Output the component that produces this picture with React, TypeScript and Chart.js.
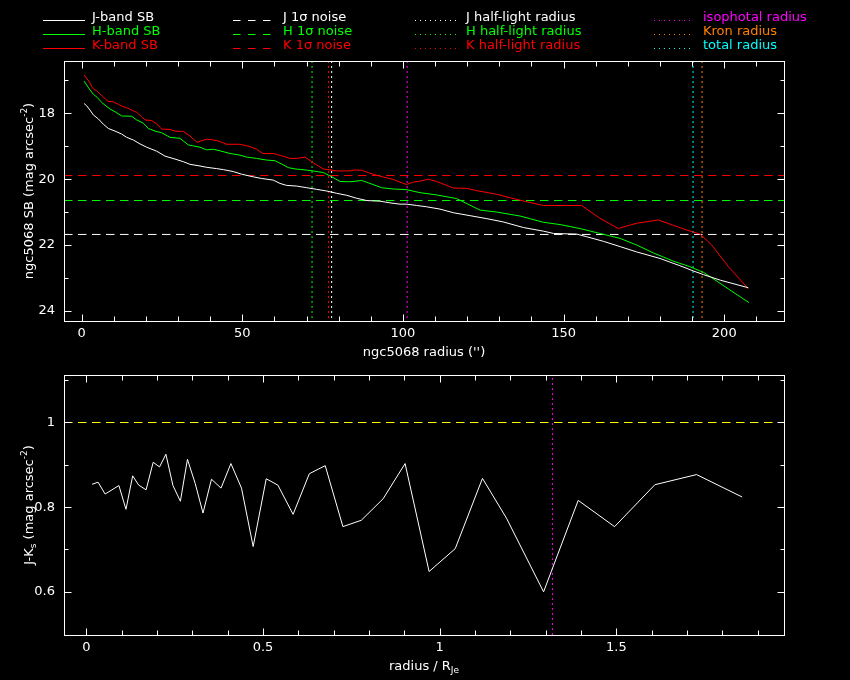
import React, { useEffect, useRef } from "react";
import { Chart, registerables } from "chart.js";

Chart.register(...registerables);

// ---------------- data ----------------
const RADIUS_J = [0.73, 1.56, 2.59, 3.63, 5.19, 6.74, 8.3, 10.37, 12.45, 14.01, 16.08, 18.16, 20.23, 23.34, 25.94, 29.05, 31.64, 33.72, 36.83, 38.9, 42.02, 44.09, 47.2, 49.8, 53.43, 56.02, 59.65, 61.73, 63.8, 66.91, 70.03, 73.14, 76.25, 79.36, 82.48, 85.59, 88.7, 92.85, 95.96, 99.08, 101.15, 104.26, 107.38, 111.53, 115.7, 120.9, 126.1, 131.2, 137.5, 143.7, 146.9, 154.1, 157.2, 162.4, 167.6, 172.7, 180.0, 186.2, 190.4, 193.5, 198.8, 207.5];
const SB_J = [17.7, 17.77, 17.9, 18.05, 18.17, 18.33, 18.46, 18.54, 18.63, 18.73, 18.81, 18.93, 19.03, 19.15, 19.3, 19.39, 19.47, 19.55, 19.6, 19.64, 19.68, 19.71, 19.77, 19.85, 19.93, 19.98, 20.03, 20.13, 20.19, 20.21, 20.26, 20.31, 20.36, 20.43, 20.49, 20.58, 20.65, 20.67, 20.72, 20.76, 20.76, 20.8, 20.84, 20.91, 21.02, 21.11, 21.2, 21.3, 21.47, 21.58, 21.65, 21.67, 21.75, 21.89, 22.05, 22.21, 22.41, 22.63, 22.79, 22.9, 23.07, 23.3];

const RADIUS_H = [0.73, 1.56, 2.59, 3.63, 4.88, 6.22, 8.82, 10.37, 12.45, 15.56, 17.12, 19.19, 20.75, 22.82, 24.9, 27.49, 30.6, 33.2, 34.75, 36.83, 38.9, 40.98, 43.05, 46.17, 49.28, 51.35, 54.47, 57.58, 60.17, 62.25, 64.32, 66.4, 69.51, 72.1, 75.21, 77.29, 80.4, 83.51, 87.15, 89.74, 93.37, 97.0, 101.15, 105.3, 110.5, 116.7, 124.0, 129.2, 136.4, 143.7, 148.9, 155.1, 161.3, 167.6, 172.7, 177.9, 184.1, 189.3, 193.5, 196.5, 201.8, 207.7];
const SB_H = [17.02, 17.14, 17.29, 17.42, 17.52, 17.67, 17.87, 17.95, 18.08, 18.09, 18.2, 18.3, 18.46, 18.54, 18.59, 18.73, 18.76, 18.96, 18.99, 19.03, 19.11, 19.09, 19.14, 19.22, 19.27, 19.33, 19.37, 19.42, 19.44, 19.54, 19.65, 19.69, 19.72, 19.75, 19.8, 19.9, 20.07, 20.08, 20.04, 20.13, 20.26, 20.3, 20.32, 20.41, 20.48, 20.59, 20.94, 21.0, 21.12, 21.31, 21.38, 21.5, 21.65, 21.8, 22.0, 22.24, 22.49, 22.66, 22.83, 23.02, 23.37, 23.75];

const RADIUS_K = [0.73, 1.56, 2.39, 3.22, 3.84, 4.67, 5.5, 6.54, 8.3, 9.86, 11.41, 12.45, 14.01, 15.56, 17.12, 18.67, 19.71, 21.79, 23.34, 24.9, 27.49, 29.05, 31.64, 33.72, 34.75, 36.0, 37.35, 38.9, 40.46, 42.54, 45.13, 49.28, 52.39, 54.47, 56.33, 59.65, 62.25, 64.84, 66.91, 69.51, 71.58, 73.14, 75.21, 77.29, 79.36, 83.51, 85.07, 87.15, 89.74, 92.85, 97.0, 100.11, 101.15, 103.22, 105.3, 107.9, 110.5, 115.7, 119.8, 123.0, 129.2, 136.4, 143.7, 155.6, 161.3, 167.0, 172.7, 179.5, 184.1, 188.4, 192.5, 196.1, 201.3, 207.5];
const SB_K = [16.83, 16.94, 17.04, 17.21, 17.27, 17.31, 17.39, 17.49, 17.64, 17.65, 17.73, 17.78, 17.83, 17.9, 17.97, 18.1, 18.2, 18.22, 18.32, 18.48, 18.49, 18.54, 18.55, 18.69, 18.78, 18.88, 18.83, 18.79, 18.8, 18.84, 18.94, 18.94, 19.01, 19.09, 19.22, 19.22, 19.29, 19.37, 19.37, 19.33, 19.47, 19.57, 19.69, 19.72, 19.75, 19.75, 19.72, 19.73, 19.82, 19.91, 20.01, 20.13, 20.16, 20.09, 20.06, 20.0, 20.07, 20.27, 20.28, 20.35, 20.46, 20.64, 20.8, 20.8, 21.19, 21.5, 21.34, 21.24, 21.4, 21.55, 21.67, 22.0, 22.66, 23.33];

const NOISE_J = 21.68;
const NOISE_H = 20.65;
const NOISE_K = 19.89;

const HALF_LIGHT_J = 77.8;
const HALF_LIGHT_H = 71.7;
const HALF_LIGHT_K = 76.8;
const ISOPHOTAL_RADIUS = 101.3;
const KRON_RADIUS = 193.1;
const TOTAL_RADIUS = 190.3;

const RADIUS_OVER_RJE = [0.016, 0.033, 0.053, 0.092, 0.112, 0.131, 0.148, 0.169, 0.189, 0.207, 0.225, 0.245, 0.266, 0.286, 0.308, 0.33, 0.354, 0.381, 0.409, 0.439, 0.472, 0.509, 0.542, 0.585, 0.631, 0.676, 0.726, 0.778, 0.84, 0.902, 0.97, 1.044, 1.121, 1.189, 1.294, 1.392, 1.495, 1.609, 1.727, 1.856];
const J_MINUS_K = [0.854, 0.859, 0.831, 0.851, 0.795, 0.874, 0.852, 0.841, 0.906, 0.895, 0.925, 0.851, 0.814, 0.913, 0.856, 0.786, 0.866, 0.845, 0.903, 0.845, 0.707, 0.867, 0.852, 0.783, 0.879, 0.898, 0.754, 0.769, 0.82, 0.903, 0.648, 0.702, 0.868, 0.774, 0.6, 0.816, 0.754, 0.853, 0.877, 0.824];
const JK_REFERENCE = 1;
const ISOPHOTAL_RJE = 1.319;

// axis ranges and ticks
const TOP_X_MIN = -5.5;
const TOP_X_MAX = 218.6;
const TOP_Y_MIN = 16.41;
const TOP_Y_MAX = 24.31;
const TOP_X_TICKS = [0, 10, 20, 30, 40, 50, 60, 70, 80, 90, 100, 110, 120, 130, 140, 150, 160, 170, 180, 190, 200, 210];
const TOP_X_LABELS = [0, 50, 100, 150, 200];
const TOP_Y_TICKS = [17, 18, 19, 20, 21, 22, 23, 24];
const TOP_Y_LABELS = [18, 20, 22, 24];

const BOT_X_MIN = -0.0634;
const BOT_X_MAX = 1.9745;
const BOT_Y_MIN = 0.498;
const BOT_Y_MAX = 1.1122;
const BOT_X_TICKS = [0, 0.1, 0.2, 0.3, 0.4, 0.5, 0.6, 0.7, 0.8, 0.9, 1, 1.1, 1.2, 1.3, 1.4, 1.5, 1.6, 1.7, 1.8, 1.9];
const BOT_X_LABELS = [0, 0.5, 1, 1.5];
const BOT_Y_TICKS = [0.6, 0.7, 0.8, 0.9, 1, 1.1];
const BOT_Y_LABELS = [0.6, 0.8, 1];

// ---------------- styling ----------------
const FONT = '"DejaVu Sans"';
const WHITE = "#ffffff";
const GREEN = "#00ff00";
const RED = "#ff0000";
const MAGENTA = "#ff00ff";
const ORANGE = "#ff8000";
const CYAN = "#00ffff";
const YELLOW = "#ffff00";
const DASH = [8.5, 5.5];
const DOT = [2, 3];

const LEGEND_COLS = [
  { x0: 43, x1: 85, tx: 92, dash: [] as number[] },
  { x0: 233, x1: 277, tx: 283, dash: [7.5, 7.5] },
  { x0: 415, x1: 457, tx: 466, dash: [1, 4] },
  { x0: 654, x1: 693, tx: 703, dash: [1, 4] },
];
const LEGEND_LINE_Y = [20.5, 34.5, 48.5];
const LEGEND_TEXT_Y = [21, 35, 49];

type Part = { text: string; size: number; dy: number };

function drawRich(ctx: CanvasRenderingContext2D, parts: Part[], x: number, y: number, rot: number) {
  ctx.save();
  ctx.translate(x, y);
  if (rot) ctx.rotate(rot);
  ctx.textBaseline = "alphabetic";
  ctx.textAlign = "left";
  ctx.fillStyle = WHITE;
  let total = 0;
  const widths = parts.map((p) => {
    ctx.font = `${p.size}px ${FONT}`;
    const w = ctx.measureText(p.text).width;
    total += w;
    return w;
  });
  let cx = -total / 2;
  parts.forEach((p, i) => {
    ctx.font = `${p.size}px ${FONT}`;
    ctx.fillText(p.text, cx, p.dy);
    cx += widths[i];
  });
  ctx.restore();
}

function framePlugin(xTicks: number[], xMajor: number[], yTicks: number[], yMajor: number[], xTitle: Part[], yTitle: Part[]) {
  return {
    id: "pgFrame",
    afterDraw(chart: any) {
      const ctx: CanvasRenderingContext2D = chart.ctx;
      const a = chart.chartArea;
      const xs = chart.scales.x;
      const ys = chart.scales.y;
      ctx.save();
      ctx.strokeStyle = WHITE;
      ctx.lineWidth = 1;
      ctx.setLineDash([]);
      const L = Math.round(a.left) + 0.5;
      const R = Math.round(a.right) + 0.5;
      const T = Math.round(a.top) + 0.5;
      const B = Math.round(a.bottom) + 0.5;
      ctx.strokeRect(L, T, R - L, B - T);
      ctx.beginPath();
      xTicks.forEach((v) => {
        const p = Math.round(xs.getPixelForValue(v)) + 0.5;
        const len = xMajor.includes(v) ? 7 : 5;
        ctx.moveTo(p, B);
        ctx.lineTo(p, B - len);
        ctx.moveTo(p, T);
        ctx.lineTo(p, T + len);
      });
      yTicks.forEach((v) => {
        const p = Math.round(ys.getPixelForValue(v)) + 0.5;
        const len = yMajor.includes(v) ? 7 : 4;
        ctx.moveTo(L, p);
        ctx.lineTo(L + len, p);
        ctx.moveTo(R, p);
        ctx.lineTo(R - len, p);
      });
      ctx.stroke();
      ctx.restore();
      drawRich(ctx, xTitle, (a.left + a.right) / 2, a.bottom + 35, 0);
      drawRich(ctx, yTitle, a.left - 31, (a.top + a.bottom) / 2, -Math.PI / 2);
    },
  };
}

const legendPlugin = {
  id: "pgLegend",
  afterDraw(chart: any) {
    const ctx: CanvasRenderingContext2D = chart.ctx;
    chart.data.datasets.forEach((ds: any, i: number) => {
      const col = LEGEND_COLS[Math.floor(i / 3)];
      const row = i % 3;
      if (!col) return;
      ctx.save();
      ctx.strokeStyle = ds.borderColor;
      ctx.lineWidth = 1;
      ctx.setLineDash(col.dash);
      ctx.beginPath();
      ctx.moveTo(col.x0, LEGEND_LINE_Y[row]);
      ctx.lineTo(col.x1, LEGEND_LINE_Y[row]);
      ctx.stroke();
      ctx.setLineDash([]);
      ctx.fillStyle = ds.borderColor;
      ctx.font = `13px ${FONT}`;
      ctx.textBaseline = "alphabetic";
      ctx.textAlign = "left";
      ctx.fillText(ds.label, col.tx, LEGEND_TEXT_Y[row]);
      ctx.restore();
    });
  },
};

const pts = (xs: number[], ys: number[]) => xs.map((x, i) => ({ x, y: ys[i] }));
const line = (label: string, data: any[], color: string, dash: number[] = []) => ({
  label,
  data,
  borderColor: color,
  backgroundColor: color,
  borderWidth: 1,
  borderDash: dash,
  pointRadius: 0,
  fill: false,
  tension: 0,
});

function scaleOpts(min: number, max: number, ticks: number[], labels: number[], isX: boolean, size: number, reverse = false) {
  return {
    type: "linear" as const,
    min,
    max,
    reverse,
    grid: { display: false, drawTicks: false },
    border: { display: false },
    afterBuildTicks: (s: any) => {
      s.ticks = ticks.map((v) => ({ value: v }));
    },
    afterFit: (s: any) => {
      if (isX) s.height = size;
      else s.width = size;
      s.paddingTop = 0;
      s.paddingBottom = 0;
      s.paddingLeft = 0;
      s.paddingRight = 0;
    },
    ticks: {
      color: WHITE,
      font: { family: FONT, size: 13 },
      padding: isX ? 5 : 9,
      autoSkip: false,
      maxRotation: 0,
      minRotation: 0,
      callback: (v: any) => (labels.includes(v) ? String(v) : ""),
    },
  };
}

function topConfig(): any {
  return {
    type: "line",
    data: {
      datasets: [
        line("J-band SB", pts(RADIUS_J, SB_J), WHITE),
        line("H-band SB", pts(RADIUS_H, SB_H), GREEN),
        line("K-band SB", pts(RADIUS_K, SB_K), RED),
        line("J 1σ noise", [{ x: TOP_X_MIN, y: NOISE_J }, { x: TOP_X_MAX, y: NOISE_J }], WHITE, DASH),
        line("H 1σ noise", [{ x: TOP_X_MIN, y: NOISE_H }, { x: TOP_X_MAX, y: NOISE_H }], GREEN, DASH),
        line("K 1σ noise", [{ x: TOP_X_MIN, y: NOISE_K }, { x: TOP_X_MAX, y: NOISE_K }], RED, DASH),
        line("J half-light radius", [{ x: HALF_LIGHT_J, y: TOP_Y_MIN }, { x: HALF_LIGHT_J, y: TOP_Y_MAX }], WHITE, DOT),
        line("H half-light radius", [{ x: HALF_LIGHT_H, y: TOP_Y_MIN }, { x: HALF_LIGHT_H, y: TOP_Y_MAX }], GREEN, DOT),
        line("K half-light radius", [{ x: HALF_LIGHT_K, y: TOP_Y_MIN }, { x: HALF_LIGHT_K, y: TOP_Y_MAX }], RED, DOT),
        line("isophotal radius", [{ x: ISOPHOTAL_RADIUS, y: TOP_Y_MIN }, { x: ISOPHOTAL_RADIUS, y: TOP_Y_MAX }], MAGENTA, DOT),
        line("Kron radius", [{ x: KRON_RADIUS, y: TOP_Y_MIN }, { x: KRON_RADIUS, y: TOP_Y_MAX }], ORANGE, DOT),
        line("total radius", [{ x: TOTAL_RADIUS, y: TOP_Y_MIN }, { x: TOTAL_RADIUS, y: TOP_Y_MAX }], CYAN, DOT),
      ],
    },
    options: {
      animation: false,
      responsive: false,
      events: [],
      layout: { padding: { left: 0, right: 66, top: 61, bottom: 0 } },
      scales: {
        x: scaleOpts(TOP_X_MIN, TOP_X_MAX, TOP_X_TICKS, TOP_X_LABELS, true, 44),
        y: scaleOpts(TOP_Y_MIN, TOP_Y_MAX, TOP_Y_TICKS, TOP_Y_LABELS, false, 64, true),
      },
      plugins: { legend: { display: false }, tooltip: { enabled: false } },
    },
    plugins: [
      framePlugin(
        TOP_X_TICKS,
        TOP_X_LABELS,
        TOP_Y_TICKS,
        TOP_Y_LABELS,
        [{ text: "ngc5068 radius ('')", size: 13, dy: 0 }],
        [
          { text: "ngc5068 SB (mag arcsec", size: 13, dy: 0 },
          { text: "-2", size: 9, dy: -6 },
          { text: ")", size: 13, dy: 0 },
        ]
      ),
      legendPlugin,
    ],
  };
}

function bottomConfig(): any {
  return {
    type: "line",
    data: {
      datasets: [
        line("J-Ks", pts(RADIUS_OVER_RJE, J_MINUS_K), WHITE),
        line("reference", [{ x: BOT_X_MIN, y: JK_REFERENCE }, { x: BOT_X_MAX, y: JK_REFERENCE }], YELLOW, DASH),
        line("isophotal radius", [{ x: ISOPHOTAL_RJE, y: BOT_Y_MIN }, { x: ISOPHOTAL_RJE, y: BOT_Y_MAX }], MAGENTA, DOT),
      ],
    },
    options: {
      animation: false,
      responsive: false,
      events: [],
      layout: { padding: { left: 0, right: 66, top: 10, bottom: 0 } },
      scales: {
        x: scaleOpts(BOT_X_MIN, BOT_X_MAX, BOT_X_TICKS, BOT_X_LABELS, true, 45),
        y: scaleOpts(BOT_Y_MIN, BOT_Y_MAX, BOT_Y_TICKS, BOT_Y_LABELS, false, 64),
      },
      plugins: { legend: { display: false }, tooltip: { enabled: false } },
    },
    plugins: [
      framePlugin(
        BOT_X_TICKS,
        BOT_X_LABELS,
        BOT_Y_TICKS,
        BOT_Y_LABELS,
        [
          { text: "radius / R", size: 13, dy: 0 },
          { text: "Je", size: 9, dy: 3 },
        ],
        [
          { text: "J-K", size: 13, dy: 0 },
          { text: "s", size: 9, dy: 3 },
          { text: " (mag arcsec", size: 13, dy: 0 },
          { text: "-2", size: 9, dy: -6 },
          { text: ")", size: 13, dy: 0 },
        ]
      ),
    ],
  };
}

export default function App() {
  const topRef = useRef<HTMLCanvasElement>(null);
  const botRef = useRef<HTMLCanvasElement>(null);

  useEffect(() => {
    document.body.style.margin = "0";
    document.body.style.background = "#000";
    Chart.defaults.font.family = FONT;
    const c1 = new Chart(topRef.current as HTMLCanvasElement, topConfig());
    const c2 = new Chart(botRef.current as HTMLCanvasElement, bottomConfig());
    return () => {
      c1.destroy();
      c2.destroy();
    };
  }, []);

  return (
    <div style={{ position: "absolute", left: 0, top: 0, width: 850, height: 680, background: "#000", overflow: "hidden" }}>
      <canvas ref={topRef} width={850} height={365} style={{ position: "absolute", left: 0, top: 0 }} />
      <canvas ref={botRef} width={850} height={315} style={{ position: "absolute", left: 0, top: 365 }} />
    </div>
  );
}
